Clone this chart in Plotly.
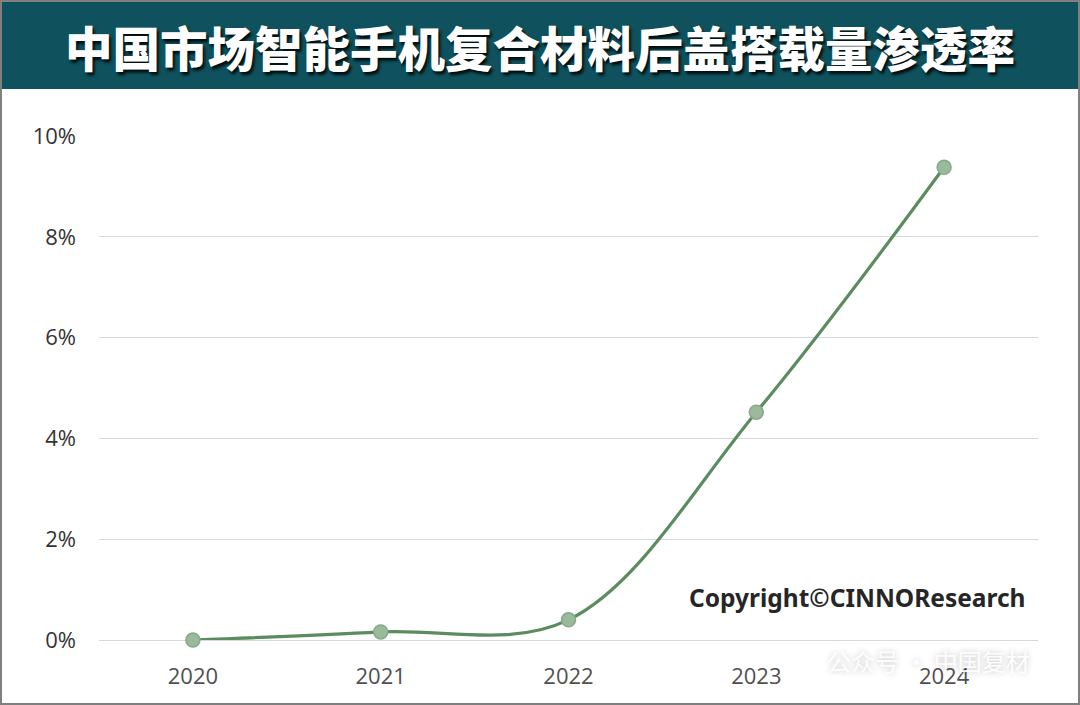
import plotly.graph_objects as go

years = ["2020", "2021", "2022", "2023", "2024"]
penetration = [0.0, 0.0016, 0.0040, 0.0452, 0.0938]
y_ticks = [0, 0.02, 0.04, 0.06, 0.08, 0.10]
y_tick_labels = ["0%", "2%", "4%", "6%", "8%", "10%"]
title_text = "中国市场智能手机复合材料后盖搭载量渗透率"
copyright_text = "Copyright©CINNOResearch"
watermark_text = "公众号 · 中国复材"

W, H = 1080, 705
L, R, T, B = 99, 42, 136, 65
pw, ph = W - L - R, H - T - B

def px(xp):
    return (xp - L) / pw

def py(yp):
    return (H - B - yp) / ph

fig = go.Figure()
fig.add_trace(go.Scatter(
    x=years, y=penetration, mode="lines+markers",
    line=dict(color="#5b8c5f", width=3.2, shape="spline", smoothing=1.0),
    marker=dict(size=14, color="#9bba9c", line=dict(color="#86aa88", width=1.5)),
    hoverinfo="skip", showlegend=False, cliponaxis=False,
))

shapes = [
    dict(type="rect", xref="paper", yref="paper", x0=px(0), x1=px(W), y0=py(0), y1=py(89),
         fillcolor="#0f525d", line=dict(width=0), layer="below"),
    dict(type="rect", xref="paper", yref="paper", x0=px(1), x1=px(W - 1), y0=py(1), y1=py(H - 1),
         fillcolor="rgba(0,0,0,0)", line=dict(color="#7f7f7f", width=2)),
]

annotations = [
    dict(text=title_text, xref="paper", yref="paper", x=px(W / 2), y=py(47),
         xanchor="center", yanchor="middle", showarrow=False,
         font=dict(family="Noto Sans CJK SC", size=47.5, color="white", weight=900,
                   shadow="2px 3px 3px rgba(0,0,0,0.85)")),
    dict(text=copyright_text, xref="paper", yref="paper", x=px(857), y=py(597),
         xanchor="center", yanchor="middle", showarrow=False,
         font=dict(family="Noto Sans", size=24.5, color="#262626", weight="bold")),
    dict(text=watermark_text, xref="paper", yref="paper", x=px(928), y=py(660),
         xanchor="center", yanchor="middle", showarrow=False,
         font=dict(family="Noto Sans CJK SC", size=24, color="rgba(255,255,255,0.95)",
                   shadow="0px 0px 6px rgba(0,0,0,0.25)")),
]

fig.update_layout(
    width=W, height=H,
    margin=dict(l=L, r=R, t=T, b=B, pad=0),
    paper_bgcolor="white", plot_bgcolor="white",
    shapes=shapes, annotations=annotations,
    xaxis=dict(type="category", range=[-0.5, 4.5], showgrid=False, zeroline=False,
               showline=False, ticks="", tickfont=dict(family="Open Sans", size=22, color="#505050"),
               ticklabelstandoff=21),
    yaxis=dict(range=[0, 0.10], tickvals=y_ticks, ticktext=y_tick_labels,
               showgrid=True, gridcolor="#d9d9d9", gridwidth=1,
               zeroline=True, zerolinecolor="#d9d9d9", zerolinewidth=1,
               showline=False, ticks="", tickfont=dict(family="Open Sans", size=22, color="#333333"),
               ticklabelstandoff=22),
)

fig.write_html("out.html", config={"displayModeBar": False},
               post_script="document.body.style.margin='0';document.body.style.padding='0';")
